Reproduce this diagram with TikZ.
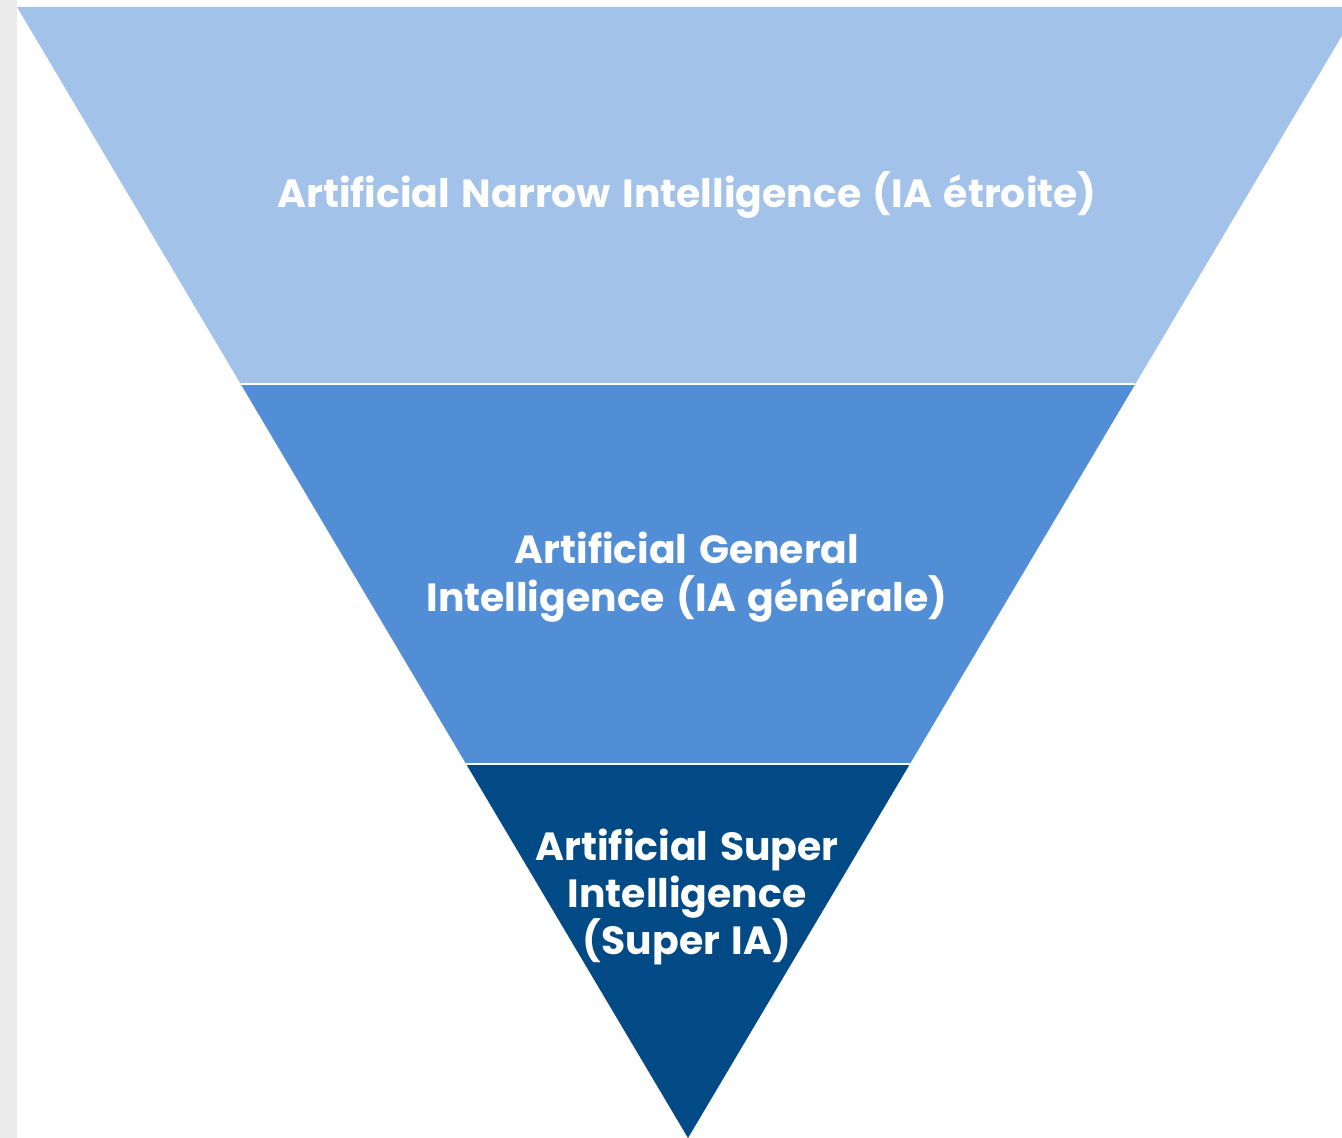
\documentclass[tikz,border=0pt]{standalone}
\usepackage{fontspec}
\setmainfont{Poppins}[WordSpace=1.4]
\usepackage{tikz}
\usetikzlibrary{positioning,calc}
\definecolor{narrowblue}{HTML}{A3C2E9}
\definecolor{generalblue}{HTML}{528ED6}
\definecolor{superblue}{HTML}{024A86}
\definecolor{sidegray}{HTML}{EBEBEB}
\tikzset{
    level/.style={text=white,font=\fontsize{29.5}{35.5}\selectfont\bfseries,align=center}
}
\begin{document}
\begin{tikzpicture}[x=0.75pt,y=-0.75pt]
    % Frame
    \useasboundingbox (0,0) rectangle (1342,1138);
    \clip (0,0) rectangle (1342,1138);
    \fill[sidegray] (0,0) rectangle (17,1138);
    % Corners of the funnel
    \coordinate (tl) at (17,7);
    \coordinate (tr) at (1359,7);
    \coordinate (apex) at (688,1138);
    \coordinate (l1) at ($(tl)!0.3333!(apex)$);
    \coordinate (r1) at ($(tr)!0.3333!(apex)$);
    \coordinate (l2) at ($(tl)!0.6693!(apex)$);
    \coordinate (r2) at ($(tr)!0.6693!(apex)$);
    % Bands
    \fill[narrowblue] (tl) -- (tr) -- (r1) -- (l1) -- cycle;
    \fill[generalblue] (l1) -- (r1) -- (r2) -- (l2) -- cycle;
    \fill[superblue] (l2) -- (r2) -- (apex) -- cycle;
    \draw[white,line width=2pt] (l1) -- (r1);
    \draw[white,line width=2pt] (l2) -- (r2);
    % Labels
    \node[level] (narrow) at (687,195) {Artificial Narrow Intelligence (IA étroite)};
    \node[level] (general) at (687,577) {Artificial General\\Intelligence (IA générale)};
    \node[level] (super) at (687,897) {Artificial Super\\Intelligence\\(Super IA)};
\end{tikzpicture}
\end{document}
